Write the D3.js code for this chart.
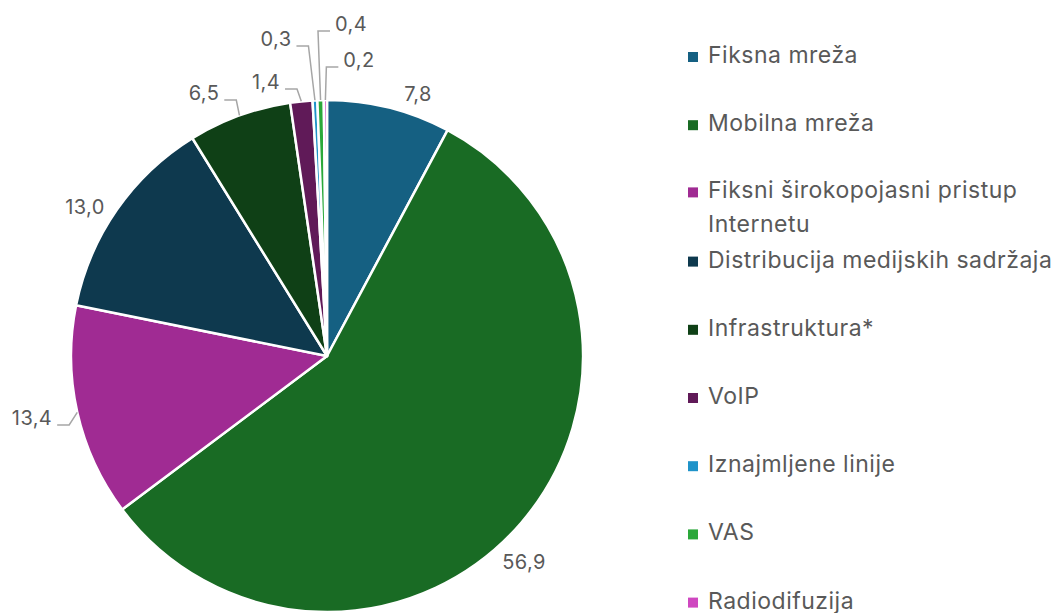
<!DOCTYPE html>
<html>
<head>
<meta charset="utf-8">
<script src="https://cdn.jsdelivr.net/npm/d3@7"></script>
<style>
  body { margin: 0; background: #fff; }
  svg text { font-family: Inter, "Open Sans", sans-serif; fill: #595959; }
</style>
</head>
<body>
<div id="chart"></div>
<script>
// data
var categories = ["Fiksna mreža", "Mobilna mreža", "Fiksni širokopojasni pristup Internetu",
  "Distribucija medijskih sadržaja", "Infrastruktura*", "VoIP", "Iznajmljene linije", "VAS", "Radiodifuzija"];
var shares = [7.8, 56.9, 13.4, 13.0, 6.5, 1.4, 0.3, 0.4, 0.2];
var colors = ["#156082", "#196B24", "#A02B93", "#0E394E", "#0F4016", "#601A58", "#1F93C9", "#2BA83A", "#CF47C0"];
// legend text broken into lines like the original
var legendLines = [["Fiksna mreža"], ["Mobilna mreža"], ["Fiksni širokopojasni pristup", "Internetu"],
  ["Distribucija medijskih sadržaja"], ["Infrastruktura*"], ["VoIP"], ["Iznajmljene linije"], ["VAS"], ["Radiodifuzija"]];

var svgWidth = 1061;
var svgHeight = 613;

var cx = 327, cy = 356, radius = 256;

// label spots, relative to pie centre; leader = side the leader line comes from
var labelLayout = [
  { dx: 91, dy: -262, leader: null },
  { dx: 197, dy: 206, leader: null },
  { dx: -295, dy: 62, leader: "right" },
  { dx: -242, dy: -149, leader: null },
  { dx: -123, dy: -263, leader: "right" },
  { dx: -61, dy: -274, leader: "right" },
  { dx: -51, dy: -317, leader: "right" },
  { dx: 24, dy: -332, leader: "left" },
  { dx: 32, dy: -296, leader: "left" }
];

var svg = d3.select("#chart")
  .append("svg")
  .attr("width", svgWidth)
  .attr("height", svgHeight);

var data = shares.map(function(v, i) {
  return { name: categories[i], value: v, color: colors[i], layout: labelLayout[i] };
});

var pie = d3.pie()
  .value(d => d.value)
  .sort(null);

var arc = d3.arc()
  .innerRadius(0)
  .outerRadius(radius);

var edgeArc = d3.arc()
  .innerRadius(radius)
  .outerRadius(radius);

var arcs = pie(data);

var pieGroup = svg.append("g")
  .attr("transform", `translate(${cx}, ${cy})`);

pieGroup.selectAll("path.slice")
  .data(arcs)
  .enter()
  .append("path")
  .attr("class", "slice")
  .attr("d", arc)
  .attr("fill", d => d.data.color)
  .attr("stroke", "#fff")
  .attr("stroke-width", 2.5)
  .attr("stroke-linejoin", "round");

var fmt = v => v.toFixed(1).replace(".", ",");

var leaderGroup = pieGroup.append("g");

var labels = pieGroup.selectAll("text.val")
  .data(arcs)
  .enter()
  .append("text")
  .attr("class", "val")
  .attr("x", d => d.data.layout.dx)
  .attr("y", d => d.data.layout.dy)
  .attr("dy", "0.36em")
  .attr("text-anchor", "middle")
  .style("font-size", "20px")
  .style("letter-spacing", "0.4px")
  .text(d => fmt(d.data.value));

// leader lines, using the measured label width
labels.each(function(d) {
  var L = d.data.layout;
  if (!L.leader) return;
  var w = this.getComputedTextLength();
  var p = edgeArc.centroid(d);
  var ly = L.dy + 7;
  var endX, elbowX;
  if (L.leader === "right") {
    endX = L.dx + w / 2 + 5;
    elbowX = endX + 12;
  } else {
    endX = L.dx - w / 2 - 5;
    elbowX = endX - 12;
  }
  leaderGroup.append("path")
    .attr("d", d3.line()([[p[0], p[1]], [elbowX, ly], [endX, ly]]))
    .attr("fill", "none")
    .attr("stroke", "#A6A6A6")
    .attr("stroke-width", 1.5);
});

// legend
var legendX = 688, legendTop = 63, slot = 68.2;
var legend = svg.append("g");
legendLines.forEach(function(lines, i) {
  var base = legendTop + slot * i;
  if (lines.length > 1) base = base - 1;
  var g = legend.append("g");
  g.append("rect")
    .attr("x", legendX)
    .attr("y", base - 11)
    .attr("width", 10)
    .attr("height", 10)
    .attr("fill", colors[i]);
  lines.forEach(function(line, j) {
    g.append("text")
      .attr("x", legendX + 20)
      .attr("y", base + j * 34)
      .style("font-size", "23px")
      .style("letter-spacing", "0.5px")
      .text(line);
  });
});
</script>
</body>
</html>
